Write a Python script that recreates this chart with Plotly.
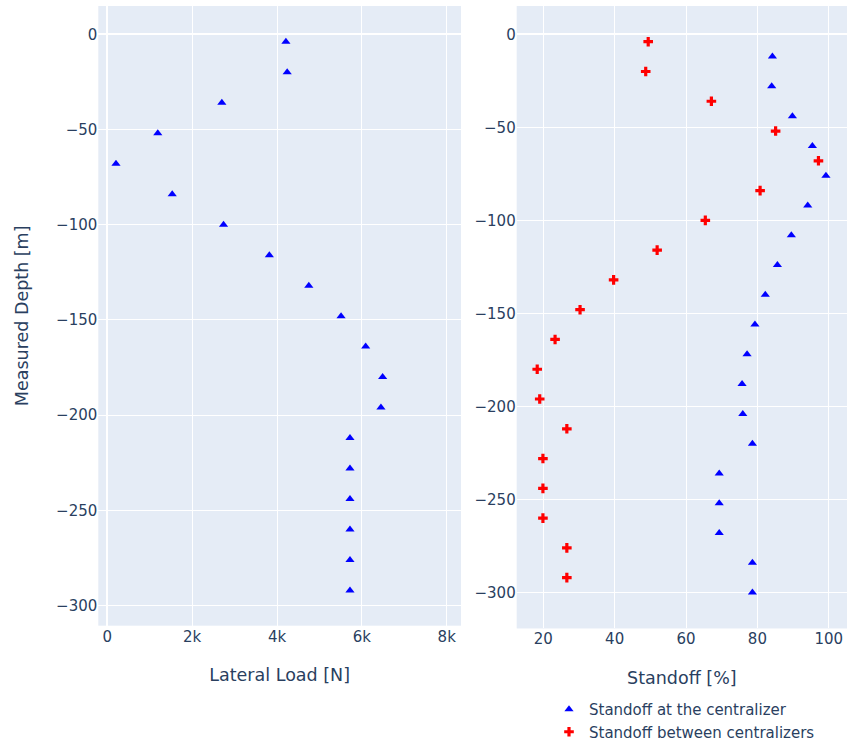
import plotly.graph_objects as go

# Lateral load on each centralizer versus measured depth
load_depth_m = [-4, -20, -36, -52, -68, -84, -100, -116, -132, -148,
                -164, -180, -196, -212, -228, -244, -260, -276, -292]
lateral_load_n = [4210, 4240, 2700, 1190, 205, 1530, 2740, 3820, 4750, 5510,
                  6090, 6490, 6450, 5720, 5720, 5720, 5720, 5720, 5720]

# Standoff at the centralizers
centralizer_depth_m = [-12, -28, -44, -60, -76, -92, -108, -124, -140, -156,
                       -172, -188, -204, -220, -236, -252, -268, -284, -300]
standoff_at_centralizer = [84.2, 84.0, 89.8, 95.4, 99.2, 94.1, 89.5, 85.6, 82.2, 79.3,
                           77.1, 75.7, 75.9, 78.6, 69.3, 69.3, 69.3, 78.6, 78.6]

# Standoff midway between centralizers
between_depth_m = [-4, -20, -36, -52, -68, -84, -100, -116, -132, -148,
                   -164, -180, -196, -212, -228, -244, -260, -276, -292]
standoff_between = [49.4, 48.7, 67.1, 85.1, 97.1, 80.75, 65.4, 51.9, 39.7, 30.3,
                    23.3, 18.3, 19.0, 26.6, 19.9, 19.9, 19.9, 26.6, 26.6]

W, H = 847, 748
TICK = 15
TITLE = 17.5

fig = go.Figure()

fig.add_trace(go.Scatter(
    x=lateral_load_n, y=load_depth_m, mode="markers",
    marker=dict(symbol="triangle-up", color="blue", size=8),
    name="Lateral Load", showlegend=False,
    xaxis="x", yaxis="y",
))
fig.add_trace(go.Scatter(
    x=standoff_at_centralizer, y=centralizer_depth_m, mode="markers",
    marker=dict(symbol="triangle-up", color="blue", size=8),
    name="Standoff at the centralizer",
    xaxis="x2", yaxis="y2",
))
fig.add_trace(go.Scatter(
    x=standoff_between, y=between_depth_m, mode="markers",
    marker=dict(symbol="cross", color="red", size=8),
    name="Standoff between centralizers",
    xaxis="x2", yaxis="y2",
))

axis_common = dict(automargin=False, tickfont=dict(size=TICK))

fig.update_layout(
    width=W, height=H,
    margin=dict(l=0, r=0, t=0, b=0),
    font=dict(family="DejaVu Sans, Verdana, sans-serif"),
    xaxis=dict(domain=[98.3 / W, 461 / W], range=[-212, 8337],
               tickformat="~s",
               title=dict(text="Lateral Load [N]", font=dict(size=TITLE), standoff=24),
               anchor="y", **axis_common),
    yaxis=dict(domain=[1 - 626.5 / H, 1 - 6 / H], range=[-310.5, 14.84],
               title=dict(text="Measured Depth [m]", font=dict(size=TITLE), standoff=22),
               anchor="x", **axis_common),
    xaxis2=dict(domain=[516.7 / W, 1.0], range=[12.55, 105.1],
                title=dict(text="Standoff [%]", font=dict(size=TITLE), standoff=24),
                anchor="y2", **axis_common),
    yaxis2=dict(domain=[1 - 629.3 / H, 1 - 6 / H], range=[-319.3, 15.19],
                anchor="x2", **axis_common),
    legend=dict(x=549 / W, xanchor="left", y=1 - 694 / H, yanchor="top",
                font=dict(size=15), bgcolor="rgba(0,0,0,0)"),
)

fig.write_html("out.html")
